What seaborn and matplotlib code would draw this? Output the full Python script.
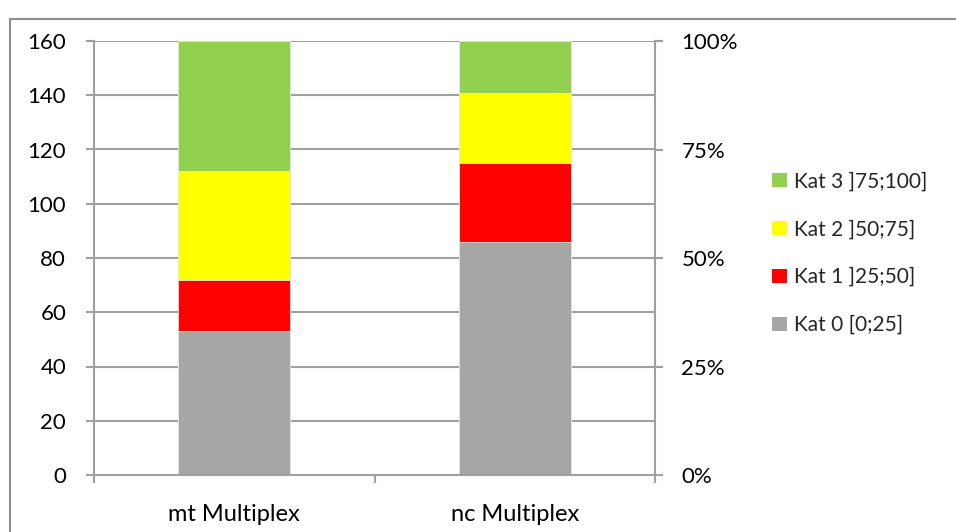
import numpy as np
import pandas as pd
import matplotlib
matplotlib.use("Agg")
import matplotlib.pyplot as plt
from matplotlib.lines import Line2D
from matplotlib.patches import Patch
import seaborn as sns

# Data
categories = ["mt Multiplex", "nc Multiplex"]
series_names = ["Kat 0 [0;25]", "Kat 1 ]25;50]", "Kat 2 ]50;75]", "Kat 3 ]75;100]"]
kat0 = [53, 86]
kat1 = [19, 29]
kat2 = [40, 26]
kat3 = [48, 19]
colors = ["#A6A6A6", "#FF0000", "#FFFF00", "#92D050"]
left_ticks = [0, 20, 40, 60, 80, 100, 120, 140, 160]
right_ticks = [0, 0.25, 0.5, 0.75, 1.0]
right_labels = ["0%", "25%", "50%", "75%", "100%"]

sns.set_theme(style="white")
plt.rcParams["font.family"] = ["Lato", "DejaVu Sans"]

stack = np.cumsum(np.array([kat0, kat1, kat2, kat3]), axis=0)
rows = []
for s_idx, name in enumerate(series_names):
    for c_idx, cat in enumerate(categories):
        rows.append({"category": cat, "series": name, "top": stack[s_idx, c_idx]})
df = pd.DataFrame(rows)

fig = plt.figure(figsize=(9.56, 5.32), dpi=100)
ax = fig.add_axes([94 / 956, 1 - 475 / 532, (655 - 94) / 956, (475 - 41) / 532])

grid_c = "#A0A0A0"
txt_c = "#000000"
for v in left_ticks[1:]:
    ax.axhline(v, color=grid_c, lw=1.5, zorder=0)

# Draw cumulative tops from the highest series down so each layer shows
for s_idx in reversed(range(len(series_names))):
    sub = df[df["series"] == series_names[s_idx]]
    sns.barplot(data=sub, x="category", y="top", order=categories, color=colors[s_idx],
                width=0.4, saturation=1, ax=ax, zorder=2,
                edgecolor="#E8E8E8", linewidth=0.6)

ax.set_xlim(-0.5, 1.5)
ax.set_ylim(0, 160)
ax.set_yticks(left_ticks)
ax.set_xlabel("")
ax.set_ylabel("")
for side in ["top", "right"]:
    ax.spines[side].set_visible(False)
for side in ["left", "bottom"]:
    ax.spines[side].set_color(grid_c)
    ax.spines[side].set_linewidth(1.5)
ax.tick_params(axis="y", which="both", left=True, length=6, width=1.5, color=grid_c,
               labelsize=16, pad=14, labelcolor=txt_c)
ax.set_xticks([0, 1])
ax.set_xticklabels(categories)
ax.set_xticks([-0.5, 0.5, 1.5], minor=True)
ax.tick_params(axis="x", which="major", bottom=False, labelsize=17, pad=15, labelcolor=txt_c)
ax.tick_params(axis="x", which="minor", bottom=True, length=6, width=1.5, color=grid_c)

ax2 = ax.twinx()
ax2.set_ylim(0, 1)
ax2.set_yticks(right_ticks)
ax2.set_yticklabels(right_labels)
for side in ["top", "left", "bottom"]:
    ax2.spines[side].set_visible(False)
ax2.spines["right"].set_color(grid_c)
ax2.spines["right"].set_linewidth(1.5)
ax2.tick_params(axis="y", right=True, length=6, width=1.5, color=grid_c,
                labelsize=16, pad=13, labelcolor=txt_c)
ax2.grid(False)

handles = [Patch(facecolor=colors[i], edgecolor="none", label=series_names[i])
           for i in reversed(range(len(series_names)))]
fig.legend(handles=handles, loc="upper left", bbox_to_anchor=(764 / 956, 1 - 163 / 532),
           frameon=False, fontsize=15, handlelength=0.7, handleheight=0.7,
           handletextpad=0.35, labelspacing=1.34, borderaxespad=0)

# Chart-area frame
fc = "#8C8C8C"
fig.add_artist(Line2D([10 / 956, 10 / 956], [0, 1 - 19 / 532], color=fc, lw=1.5))
fig.add_artist(Line2D([10 / 956, 1], [1 - 19 / 532, 1 - 19 / 532], color=fc, lw=1.5))

fig.savefig("out.png", dpi=100)
